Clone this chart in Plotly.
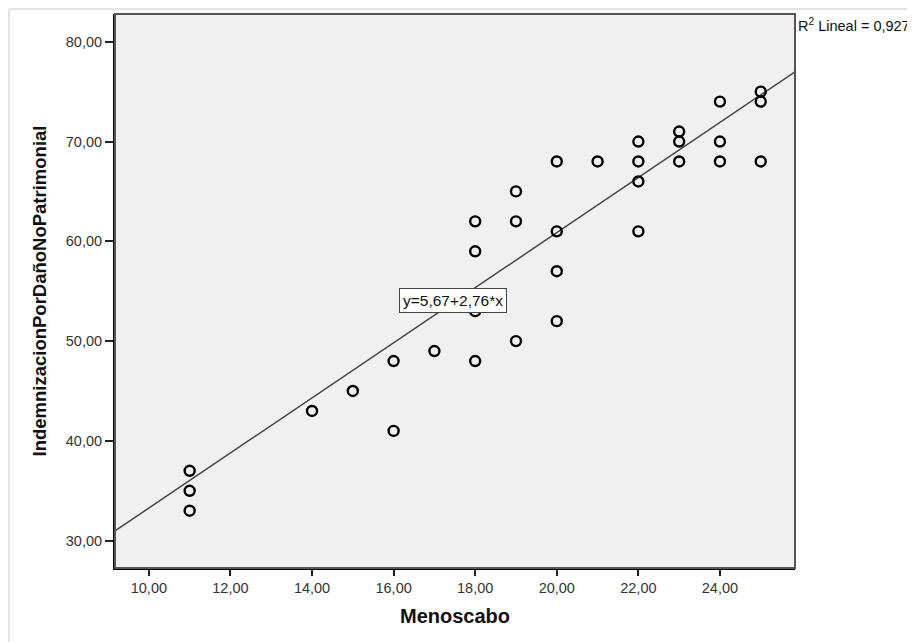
import plotly.graph_objects as go

# Data
menoscabo = [11, 11, 11, 14, 15, 16, 16, 17, 18, 18, 18, 18, 19, 19, 19,
             20, 20, 20, 20, 21, 22, 22, 22, 22, 23, 23, 23, 24, 24, 24,
             25, 25, 25]
indemnizacion = [37, 35, 33, 43, 45, 48, 41, 49, 62, 59, 53, 48, 65, 62, 50,
                 68, 61, 57, 52, 68, 70, 68, 66, 61, 71, 70, 68, 74, 70, 68,
                 75, 74, 68]
intercept = 5.67
slope = 2.76
r2 = 0.927
x_ticks = [10, 12, 14, 16, 18, 20, 22, 24]
y_ticks = [30, 40, 50, 60, 70, 80]
x_range = [9.17, 25.84]
y_range = [27.26, 82.78]

FONT = "Liberation Sans, Arial, sans-serif"

fig = go.Figure()

line_x = x_range
line_y = [intercept + slope * v for v in line_x]
fig.add_trace(go.Scatter(x=line_x, y=line_y, mode="lines",
                         line=dict(color="#444444", width=1.5),
                         hoverinfo="skip", showlegend=False))

fig.add_trace(go.Scatter(x=menoscabo, y=indemnizacion, mode="markers",
                         marker=dict(symbol="circle-open", size=10,
                                     color="black", line=dict(width=2.4, color="black")),
                         showlegend=False))

def fmt(v):
    return f"{v:.2f}".replace(".", ",")

fig.update_layout(
    width=907, height=634,
    margin=dict(l=107, r=120, t=6, b=74),
    paper_bgcolor="white",
    plot_bgcolor="#f0f0f0",
    font=dict(family=FONT, size=14, color="#333333"),
    xaxis=dict(range=x_range, tickvals=x_ticks, ticktext=[fmt(v) for v in x_ticks],
               showgrid=False, zeroline=False, showline=True, linecolor="black",
               linewidth=2, ticks="outside", ticklen=6, tickwidth=2, tickcolor="#222222",
               tickfont=dict(family=FONT, size=14.5, color="#333333"),
               title=dict(text="<b>Menoscabo</b>", font=dict(family=FONT, size=20, color="#111111"),
                          standoff=14)),
    yaxis=dict(range=y_range, tickvals=y_ticks, ticktext=[fmt(v) for v in y_ticks],
               showgrid=False, zeroline=False, showline=True, linecolor="black",
               linewidth=2, ticks="outside", ticklen=8, tickwidth=2, tickcolor="#222222",
               tickfont=dict(family=FONT, size=14.5, color="#333333"),
               title=dict(text="<b>IndemnizacionPorDañoNoPatrimonial</b>",
                          font=dict(family=FONT, size=18.5, color="#111111"), standoff=14)),
    shapes=[
        dict(type="rect", xref="paper", yref="paper", x0=0, x1=1, y0=0, y1=1,
             line=dict(color="#555555", width=2), layer="above"),
        dict(type="line", xref="paper", yref="paper", x0=-0.1559, x1=-0.1559, y0=-0.2, y1=1.009,
             line=dict(color="#e4e4e4", width=2)),
        dict(type="line", xref="paper", yref="paper", x0=-0.1559, x1=1.3, y0=1.009, y1=1.009,
             line=dict(color="#e4e4e4", width=2)),
    ],
    annotations=[
        dict(x=17.45, y=54.1, xref="x", yref="y",
             text="y=" + fmt(intercept) + "+" + fmt(slope) + "*x",
             showarrow=False, bgcolor="white", bordercolor="#444444", borderwidth=1,
             borderpad=3, font=dict(family=FONT, size=15.5, color="#111111")),
        dict(x=1.0015, y=0.980, xref="paper", yref="paper", xanchor="left", yanchor="middle",
             text="R<sup>2</sup> Lineal = " + f"{r2:.3f}".replace(".", ","),
             showarrow=False, font=dict(family=FONT, size=14.5, color="#111111")),
    ],
)

fig.write_html("out.html")
